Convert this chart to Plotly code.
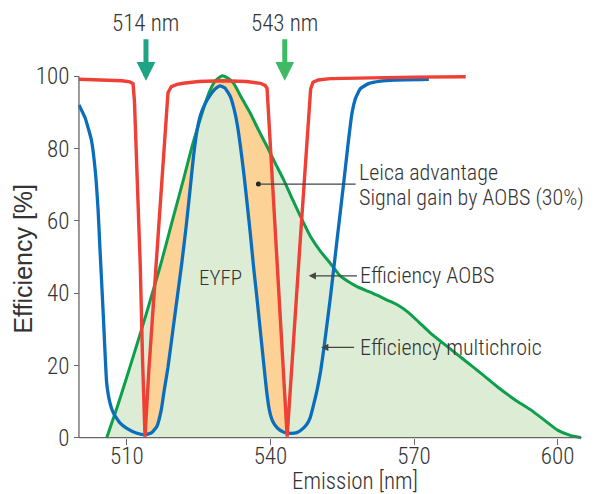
import numpy as np
import plotly.graph_objects as go

# ---------------- data ----------------
lasers = [514, 543]
laser_labels = ["514 nm", "543 nm"]
laser_colors = ["#1fa385", "#3dba63"]

# EYFP emission spectrum (green)
eyfp_x = [505.8, 508, 510, 512, 514, 516, 517.3, 519.5, 521.8, 523.5, 525.3, 526.5, 527.4, 528.5,
          529.9, 531, 532.3, 534, 535.8, 537.5, 539.3, 541, 542.8, 544.5, 546.3, 548.4, 550.5,
          552.5, 554.6, 556.5, 558.1, 561, 564.4, 566.5, 568.6, 571, 573.5, 577, 580.5, 584,
          587.4, 591, 594.4, 597.5, 600, 602.5, 604.9]
eyfp_y = [0, 8.5, 16.8, 25.3, 34, 43, 49, 60, 71.3, 80, 88, 93, 96.2, 98.8,
          100.2, 99.6, 98.1, 94, 89.8, 85.2, 80.6, 76, 71.3, 66.3, 61.2, 55.6, 51.5,
          48.3, 44.8, 43, 41.8, 40.2, 38.1, 36.8, 34.9, 32, 28.9, 25.2, 21.5, 17.8,
          14.1, 10.6, 7.7, 4.6, 2.1, 0.7, 0]

# AOBS efficiency (red)
aobs_x = [500, 505, 509, 510.6, 511.3, 511.6, 512.8, 513.3, 513.8, 514.6, 516.3, 518.6, 519.3,
          520.5, 521.8, 525, 530, 535, 537.9, 538.9, 539.3, 541.4, 542.8, 543.5, 546.1, 548.4,
          548.9, 550, 552.5, 560, 570, 580.8]
aobs_y = [99.2, 99.1, 98.8, 98.5, 98.0, 93, 48, 21, 0.3, 18.7, 52, 95.5, 97.2,
          97.8, 98.1, 98.6, 98.8, 98.6, 98.1, 97.5, 96.7, 49, 18.7, 0.3, 52, 96.5,
          98.4, 99.0, 99.4, 99.6, 99.8, 99.9]

# multichroic efficiency (blue)
multi_x = [500, 501.3, 502.6, 503.4, 504.0, 504.4, 505.1, 505.8, 506.5, 507.2, 508.5, 510, 512,
           513.8, 515.2, 516.3, 517.2, 517.8, 518.6, 519.6, 520.6, 521.5, 522.4, 523.2, 523.9,
           524.6, 525.4, 526.4, 527.4, 528.5, 529.5, 530.5, 531.6, 532.4, 533.1, 533.8, 534.5,
           535.2, 535.8, 536.5, 537.2, 537.9, 538.6, 539.2, 539.8, 540.5, 541.5, 542.8, 544.3,
           545.5, 546.5, 547.5, 548.3, 549.0, 549.8, 550.5, 551.2, 552.5, 553.9, 555.3, 556.2,
           557.0, 557.8, 558.8, 560.5, 563, 566, 573.1]
multi_y = [92.1, 88.5, 82.4, 74, 63, 52, 33.5, 15, 9.5, 6.8, 4.2, 2.6, 1.3,
           0.8, 1.4, 3.2, 7.7, 13, 19.5, 29.5, 39.5, 48.5, 58.5, 68.5, 77.5,
           84.5, 89.3, 92.6, 94.8, 96.6, 97.4, 96.8, 94.5, 91, 86.5, 80, 72.5,
           64, 56.5, 47, 38.5, 29.5, 20.5, 13, 7.5, 4.5, 2.6, 1.5, 1.2,
           1.4, 2.2, 3.5, 5.5, 9, 13.5, 18.5, 25, 38.5, 54.5, 70.4, 81,
           89.5, 94, 96.6, 98, 98.7, 99, 99.2]

xticks = [510, 540, 570, 600]
yticks = [0, 20, 40, 60, 80, 100]

# ---------------- styles ----------------
NARROW = "Noto Sans Condensed, Noto Sans Cond, Roboto Condensed, Roboto, sans-serif"
REG = "Liberation Sans, Arial, sans-serif"
TXT = "#333333"
AX = "#666666"
RED = "#ee4035"
BLUE = "#0a6ebd"
GREEN = "#0e9f4d"
GREEN_FILL = "#ddedd5"
ORANGE_FILL = "#fdd296"
FS = 22
WT = 300

XR = [499.8, 605.1]
YR = [-1.19, 101.5]


def py(v):
    return (v - YR[0]) / (YR[1] - YR[0])


def px(v):
    return (v - XR[0]) / (XR[1] - XR[0])


def nf(size):
    return dict(family=NARROW, size=size, color=TXT, weight=WT)


# orange region: gain of AOBS over multichroic between the two laser lines
dips = [x for x, y in zip(aobs_x, aobs_y) if y < 1]
grid = np.linspace(dips[0], dips[1], 800)
g = np.interp(grid, eyfp_x, eyfp_y)
r = np.interp(grid, aobs_x, aobs_y)
b = np.interp(grid, multi_x, multi_y)
upper = np.minimum(g, r)
lower = np.minimum(b, upper)
poly_x = np.concatenate([grid, grid[::-1]])
poly_y = np.concatenate([upper, lower[::-1]])

fig = go.Figure()
fig.add_trace(go.Scatter(x=eyfp_x, y=eyfp_y, mode="lines", line=dict(width=0, color=GREEN_FILL),
                         fill="tozeroy", fillcolor=GREEN_FILL, hoverinfo="skip"))
fig.add_trace(go.Scatter(x=poly_x, y=poly_y, mode="lines", line=dict(width=0, color=ORANGE_FILL),
                         fill="toself", fillcolor=ORANGE_FILL, hoverinfo="skip"))
fig.add_trace(go.Scatter(x=eyfp_x, y=eyfp_y, mode="lines",
                         line=dict(color=GREEN, width=3, shape="spline", smoothing=0.5)))
fig.add_trace(go.Scatter(x=multi_x, y=multi_y, mode="lines",
                         line=dict(color=BLUE, width=3.3, shape="spline", smoothing=0.4)))
fig.add_trace(go.Scatter(x=aobs_x, y=aobs_y, mode="lines",
                         line=dict(color=RED, width=3.4)))

# leader dot for "Leica advantage"
lead_x = [537.5, 557.8]
lead_y = 70.2
fig.add_shape(type="line", xref="x", yref="y", x0=lead_x[0], x1=lead_x[1], y0=lead_y, y1=lead_y,
              line=dict(color="#444444", width=1.2))
fig.add_trace(go.Scatter(x=[lead_x[0]], y=[lead_y], mode="markers",
                         marker=dict(color="#222222", size=5)))

# axis lines
fig.add_shape(type="line", xref="x", yref="y", x0=500, x1=605, y0=0, y1=0,
              line=dict(color=AX, width=1.3))
fig.add_shape(type="line", xref="x", yref="y", x0=500, x1=500, y0=0, y1=100,
              line=dict(color=AX, width=1.3))

ann = []
# laser arrows + labels
for lx, lab, col in zip(lasers, laser_labels, laser_colors):
    ann.append(dict(x=lx, y=98.8, xref="x", yref="y", ax=0, ay=-43, text="",
                    showarrow=True, arrowhead=2, arrowsize=0.75, arrowwidth=5, arrowcolor=col))
    ann.append(dict(x=px(lx), y=py(114.7), xref="paper", yref="paper", text=lab, showarrow=False,
                    xanchor="center", yanchor="middle", font=nf(FS + 1)))

# annotation texts
TX0 = 558.0
ann.append(dict(x=TX0, y=73.3, xref="x", yref="y", text="Leica advantage", showarrow=False,
                xanchor="left", font=nf(FS)))
ann.append(dict(x=TX0, y=66.4, xref="x", yref="y", text="Signal gain by AOBS (30%)", showarrow=False,
                xanchor="left", font=nf(FS)))
ann.append(dict(x=TX0 + 0.2, y=44.8, xref="x", yref="y", text="Efficiency AOBS", showarrow=False,
                xanchor="left", font=nf(FS)))
ann.append(dict(x=TX0 + 0.3, y=25.0, xref="x", yref="y", text="Efficiency multichroic", showarrow=False,
                xanchor="left", font=nf(FS)))
ann.append(dict(x=529.6, y=44.2, xref="x", yref="y", text="EYFP", showarrow=False,
                font=nf(FS - 1)))
# leader arrows
ann.append(dict(x=548.0, y=44.8, xref="x", yref="y", ax=558.4, ay=44.8, axref="x", ayref="y",
                text="", showarrow=True, arrowhead=2, arrowsize=1.2, arrowwidth=1.2,
                arrowcolor="#444444"))
ann.append(dict(x=550.6, y=25.0, xref="x", yref="y", ax=557.8, ay=25.0, axref="x", ayref="y",
                text="", showarrow=True, arrowhead=2, arrowsize=1.2, arrowwidth=1.2,
                arrowcolor="#444444"))
# axis titles
ann.append(dict(x=-0.111, y=py(49.6), xref="paper", yref="paper", text="Efficiency [%]", textangle=-90,
                xanchor="center", yanchor="middle",
                showarrow=False, font=dict(family=REG, size=25, color=TXT)))
ann.append(dict(x=px(557.6), y=py(-12.1), xref="paper", yref="paper", text="Emission [nm]",
                xanchor="center", yanchor="middle", showarrow=False, font=nf(FS + 1)))

fig.update_layout(
    width=595, height=494,
    margin=dict(l=78, r=13, t=71, b=52),
    plot_bgcolor="white", paper_bgcolor="white",
    showlegend=False,
    annotations=ann,
    xaxis=dict(range=XR, tickvals=xticks, ticks="outside", ticklen=6, tickwidth=1.3, tickcolor=AX,
               showgrid=False, zeroline=False, showline=False, anchor="free",
               position=py(0), ticklabelstandoff=-8,
               tickfont=nf(FS + 1)),
    yaxis=dict(range=YR, tickvals=yticks, ticks="outside", ticklen=5, tickwidth=1.3, tickcolor=AX,
               showgrid=False, zeroline=False, showline=False, anchor="free",
               position=px(500),
               tickfont=nf(FS + 1)),
)

fig.write_html("out.html")
